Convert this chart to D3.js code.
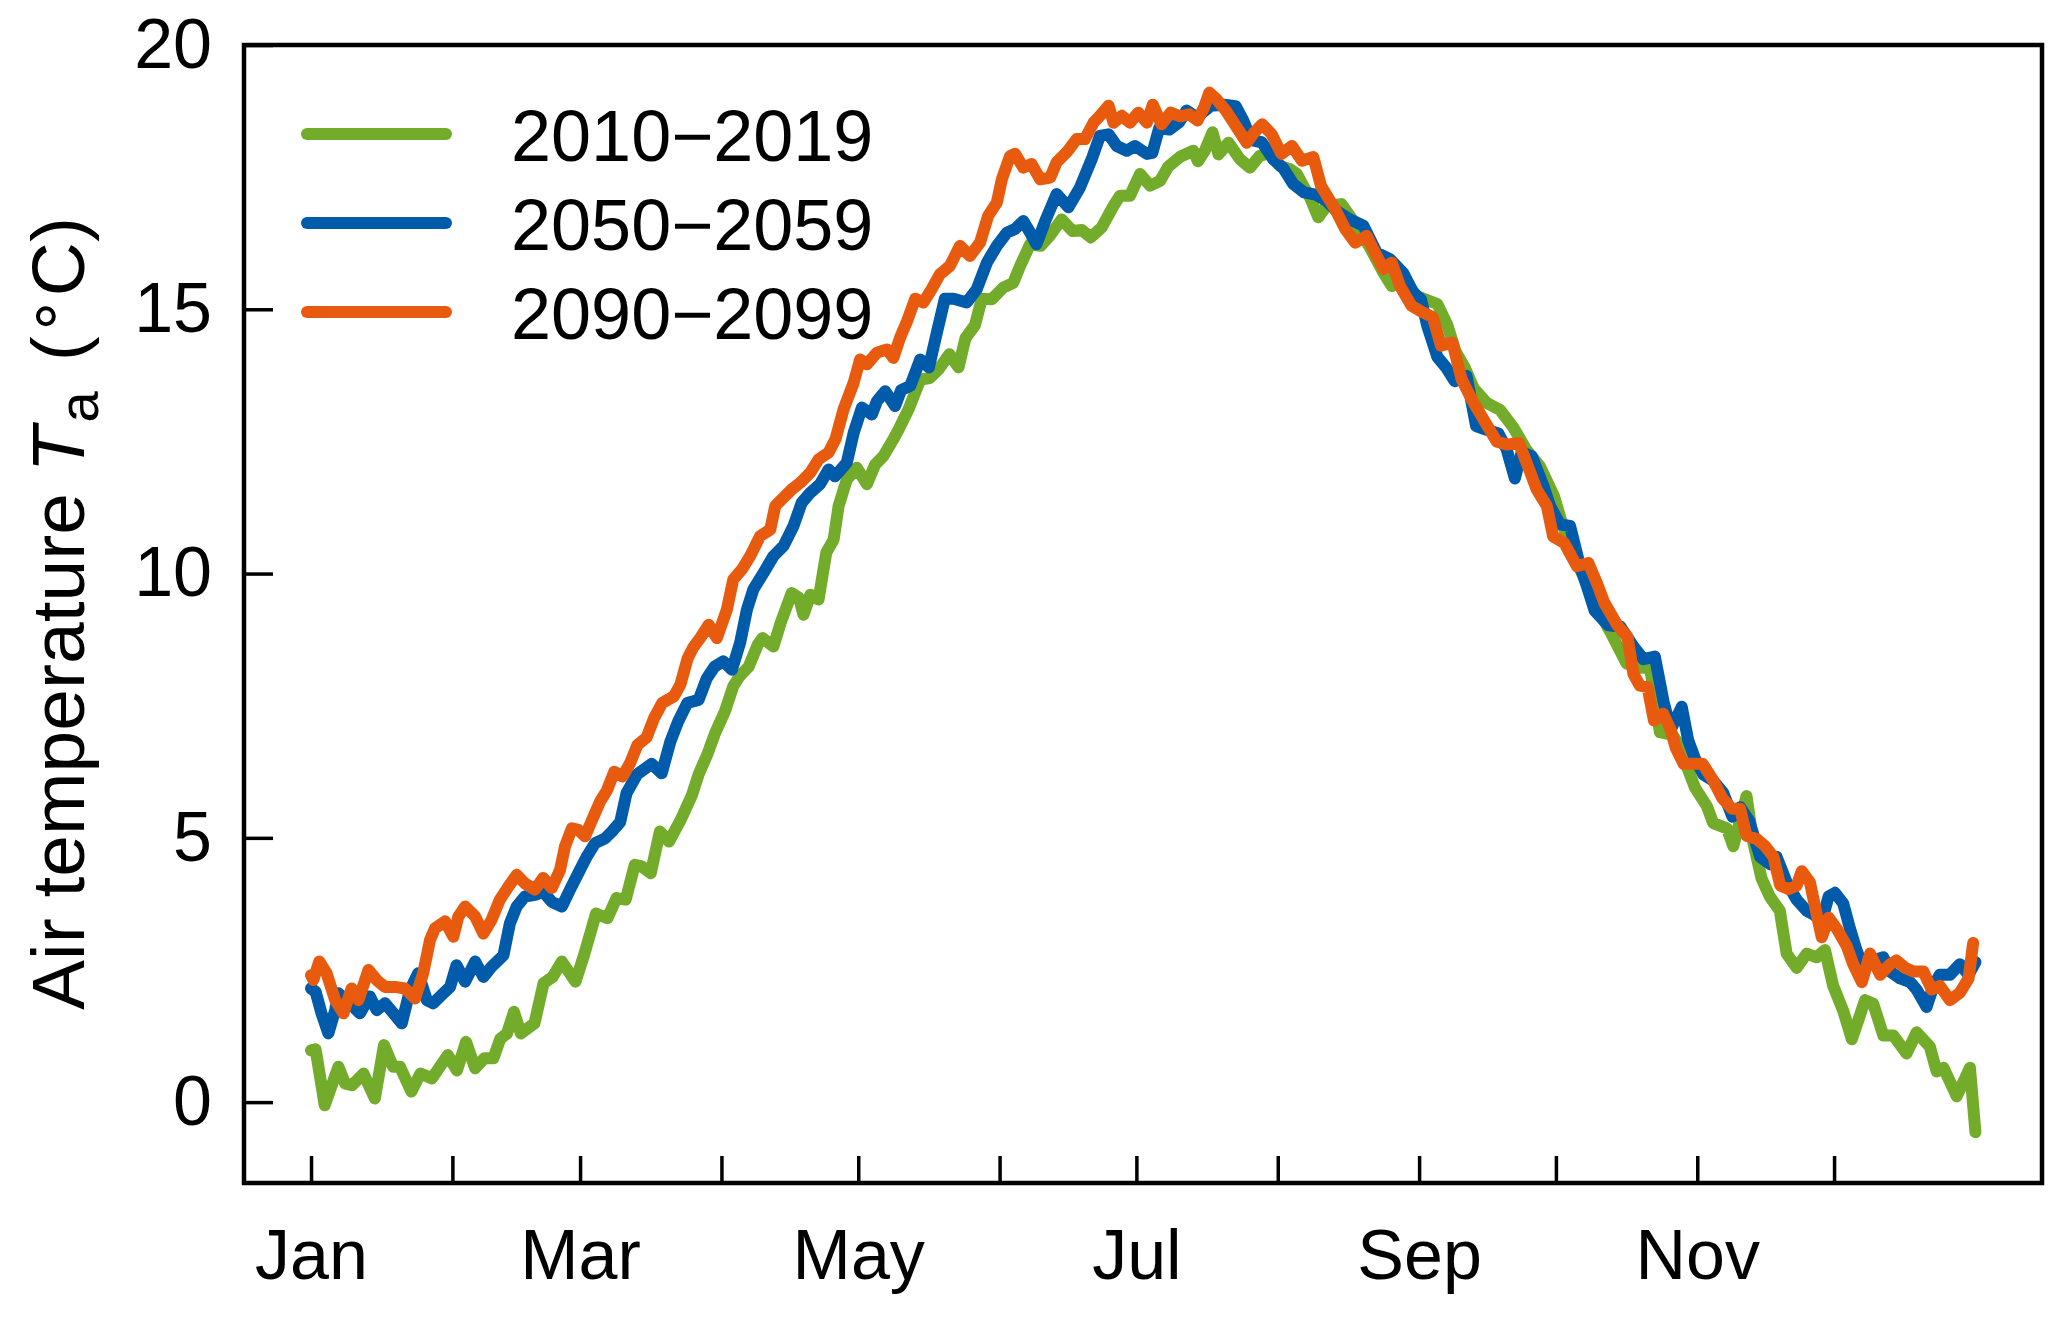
<!DOCTYPE html>
<html>
<head>
<meta charset="utf-8">
<script src="https://cdn.jsdelivr.net/npm/d3@7"></script>
<style>
  body { margin: 0; background: #fff; }
  text { font-family: Arial, "Liberation Sans", Helvetica, sans-serif; fill: #000; }
</style>
</head>
<body>
<div id="chart"></div>
<script>
// day of year -> mean air temperature (deg C)
const t2010 = [[1,0.98],[2,1.0],[4,-0.06],[7,0.67],[8.5,0.35],[10,0.32],[12.5,0.54],[15,0.07],[17,1.08],[19,0.67],[20.5,0.67],[23,0.2],[25,0.54],[27.5,0.45],[31,0.89],[33,0.6],[35,1.14],[37,0.64],[39,0.83],[41,0.83],[42.5,1.2],[44,1.3],[45.5,1.71],[47,1.3],[50,1.49],[52,2.25],[54,2.37],[56,2.66],[59,2.28],[61,2.82],[63.5,3.57],[66,3.48],[68,3.86],[70,3.83],[72,4.49],[73.5,4.46],[75.5,4.33],[77.5,5.12],[79.5,4.93],[82,5.33],[84.5,5.8],[86,6.2],[88,6.6],[89.6,6.98],[91.8,7.4],[93.6,7.87],[95,8.06],[97,8.24],[99,8.66],[100,8.78],[102.4,8.62],[104,9.07],[106.4,9.63],[108,9.54],[109,9.22],[110.5,9.6],[112.3,9.51],[114,10.4],[115.6,10.64],[116.7,11.28],[118.5,11.78],[120.7,12.0],[122.9,11.69],[124.7,12.06],[126.5,12.22],[128.7,12.54],[130,12.75],[132,13.1],[134.6,13.67],[136.7,13.7],[138.6,13.86],[141,14.15],[143,13.9],[144.5,14.45],[146.6,14.7],[148.1,15.2],[150.3,15.19],[152.8,15.41],[155,15.5],[156.5,15.82],[158.7,16.23],[161,16.2],[163,16.39],[165.6,16.7],[168,16.48],[170,16.5],[172,16.36],[174.4,16.55],[177,16.96],[178.4,17.15],[180.6,17.15],[182.8,17.56],[185,17.34],[187.2,17.43],[189,17.7],[191.5,17.88],[194.5,18.0],[195.5,17.8],[197,18.0],[198.7,18.35],[200,17.93],[202.2,18.15],[204.7,17.84],[206.9,17.68],[209,17.9],[211,17.95],[213.5,17.71],[215.7,17.65],[217.2,17.56],[219,17.27],[220.1,17.11],[221.9,16.74],[223.7,16.96],[227,16.99],[230.3,16.58],[233.2,16.17],[236.2,15.69],[238,15.44],[240.5,15.57],[243.5,15.25],[248,15.1],[250.2,14.7],[252,14.2],[254,13.9],[256,13.5],[258.8,13.23],[261.7,13.1],[264.7,12.76],[267.6,12.33],[270.5,12.03],[273.6,11.46],[275,11.05],[277.8,10.33],[280.8,9.82],[283.7,9.25],[286.4,8.82],[289.5,8.3],[292.4,8.22],[294.6,8.22],[295.6,7.74],[296.8,7.0],[299.5,6.95],[301.5,6.7],[302.5,6.4],[304.5,5.95],[307.1,5.6],[308.5,5.28],[311.5,5.18],[312.9,4.84],[315.8,5.79],[317.3,4.91],[319.1,4.23],[320.9,3.89],[323.1,3.62],[324.6,2.81],[326.8,2.54],[329,2.81],[331.2,2.74],[333,2.88],[334.8,2.2],[337,1.73],[338.9,1.19],[341.8,1.93],[343.6,1.86],[345.8,1.26],[348,1.26],[350.9,0.92],[353.1,1.32],[356,1.05],[357.5,0.58],[359,0.65],[361.9,0.11],[364.8,0.65],[366,-0.57]];

const t2050 = [[1,2.15],[2,2.09],[3.3,1.68],[4.8,1.3],[6.3,1.74],[7,2.06],[8.8,1.93],[11.7,1.68],[13.9,2.0],[15.4,1.74],[17.2,1.87],[19.1,1.68],[20.9,1.49],[22.7,2.12],[24.5,2.44],[26.4,1.93],[27.8,1.87],[29.7,2.03],[31.5,2.18],[32.9,2.59],[34.8,2.28],[37,2.66],[38.8,2.37],[40.6,2.56],[43.2,2.78],[44.6,3.38],[46.1,3.7],[47.9,3.89],[50.1,3.92],[51.9,3.98],[53.8,3.79],[56,3.7],[57.8,4.02],[59.6,4.33],[61.5,4.65],[63.3,4.9],[65.5,4.99],[67,5.12],[68.8,5.3],[70.2,5.85],[72.5,6.2],[75.7,6.4],[77.9,6.22],[79.8,6.82],[81.5,7.2],[83.5,7.55],[86,7.61],[87.8,8.02],[89.5,8.24],[91.4,8.34],[93.3,8.18],[95.1,8.69],[96.6,9.32],[98,9.7],[100.2,10.01],[102.4,10.33],[104.6,10.52],[106.8,10.9],[108.6,11.34],[110.5,11.53],[112.6,11.69],[114.5,11.97],[115.9,11.84],[118.5,12.1],[120,12.66],[121.8,13.14],[124,13.01],[125.1,13.26],[126.9,13.45],[129.1,13.17],[130.4,13.47],[132.4,13.55],[134.6,14.05],[136.5,13.9],[137.9,14.43],[140,15.2],[141.9,15.2],[144.8,15.13],[147,15.38],[149.2,15.88],[151.4,16.2],[153.6,16.45],[155.4,16.52],[157.2,16.67],[158.7,16.45],[160.1,16.23],[162,16.67],[164.5,17.18],[167.1,16.93],[169.6,17.3],[172.2,17.84],[174,18.28],[175.9,18.31],[177.7,18.09],[179.9,18.0],[181.7,18.09],[184.3,17.94],[185.5,17.96],[187,18.43],[189.2,18.4],[191.4,18.54],[193,18.76],[195.2,18.63],[198.3,18.85],[201.2,18.87],[203.8,18.84],[205.5,18.56],[207.2,18.2],[209.5,18.16],[212,17.84],[214.2,17.67],[216.4,17.37],[218.8,17.21],[221.3,17.17],[223.7,17.05],[225.9,16.86],[228.8,16.7],[231.8,16.58],[234.7,16.07],[237.6,15.95],[240.5,15.69],[242.7,15.32],[244.4,15.19],[245.8,14.68],[248,14.1],[249.9,13.9],[251.8,13.64],[254.4,13.74],[256.5,12.79],[258.8,12.72],[261.4,12.65],[263.2,12.35],[265,11.8],[266.5,12.3],[268.7,12.22],[271.3,11.65],[272.7,11.28],[274.9,10.93],[277.1,10.9],[279.3,10.14],[280.8,9.76],[282.5,9.3],[285.5,9.02],[288.1,9.0],[291,8.62],[293.2,8.38],[295.7,8.43],[297.6,7.58],[299.2,7.05],[301.6,7.48],[303,6.85],[304.5,6.5],[306.3,6.2],[308.5,6.08],[310.7,5.85],[312.7,5.4],[314.4,5.58],[316.4,5.32],[318.8,4.64],[321,4.5],[322.4,4.64],[324.6,4.16],[326.8,3.83],[329,3.62],[330.5,3.55],[332.3,3.42],[333.8,3.89],[335.2,3.96],[337,3.76],[338.5,3.28],[339.9,2.88],[341.4,2.54],[343.6,2.68],[345.8,2.74],[347.3,2.47],[349.5,2.34],[351.7,2.27],[353.1,2.13],[355.3,1.8],[356.8,2.2],[358.2,2.41],[360.4,2.41],[362.6,2.61],[364.5,2.41],[366,2.65]];

const t2090 = [[1,2.4],[1.5,2.31],[2.8,2.66],[4.4,2.44],[6.3,1.93],[8.1,1.68],[9.9,2.15],[11.4,1.93],[13.6,2.5],[15.4,2.31],[17.2,2.18],[19.4,2.18],[21.6,2.15],[23.8,1.96],[25.6,2.44],[27.1,3.07],[28.2,3.29],[30.4,3.42],[32.2,3.13],[33.3,3.51],[34.8,3.7],[37,3.51],[38.8,3.19],[40.6,3.45],[42.4,3.83],[44.3,4.08],[46.1,4.3],[47.9,4.14],[50.1,4.02],[51.9,4.24],[53.8,4.05],[55.6,4.39],[56.7,4.84],[58.2,5.18],[59.6,5.15],[61.1,5.03],[62.5,5.31],[64.4,5.69],[65.9,5.9],[67.5,6.25],[69.3,6.16],[71,6.42],[72.6,6.76],[74.6,6.9],[76.2,7.26],[78,7.55],[80.6,7.68],[82,7.9],[83.6,8.4],[84.8,8.6],[86.5,8.8],[88.2,9.03],[90,8.78],[92.2,9.32],[93.6,9.89],[95.5,10.08],[97.3,10.33],[99.5,10.71],[101.7,10.83],[102.8,11.28],[104.2,11.4],[106.4,11.59],[108.3,11.72],[110.5,11.91],[112.3,12.16],[114.5,12.29],[116,12.54],[117.8,13.11],[120,13.61],[121.4,14.05],[122.9,13.96],[125.1,14.18],[127.3,14.24],[128.7,14.08],[130.2,14.47],[131.6,14.75],[133.5,15.2],[135.3,15.13],[137.1,15.38],[138.9,15.66],[141.1,15.82],[143.3,16.2],[145.5,16.01],[147.7,16.26],[149.5,16.77],[151.4,17.02],[152.5,17.46],[154.3,17.9],[155.4,17.94],[157.2,17.68],[159,17.75],[160.9,17.46],[163.1,17.49],[164.5,17.78],[166.7,17.97],[168.9,18.22],[170.7,18.22],[172.6,18.53],[174,18.66],[175.9,18.85],[177,18.53],[178.8,18.66],[180.6,18.53],[182.4,18.72],[184.3,18.53],[185.6,18.87],[187.5,18.5],[189.5,18.72],[191.6,18.65],[193.6,18.69],[195.4,18.57],[196.9,18.83],[198,19.1],[199.5,18.98],[201.6,18.76],[203.8,18.47],[206.2,18.15],[208,18.36],[209.6,18.5],[211.6,18.32],[213.8,17.94],[216.1,18.09],[218.3,17.81],[220.8,17.88],[222.5,17.33],[225.6,16.89],[227.8,16.52],[230,16.26],[232.5,16.39],[234.7,16.01],[236.2,15.76],[238,15.88],[239.8,15.44],[242.3,15.07],[244.6,14.95],[247,14.85],[248.8,14.31],[251.3,14.37],[253.3,13.68],[255.5,13.3],[258.1,12.92],[261,12.5],[263.2,12.44],[265.9,12.47],[268,12.0],[269.8,11.59],[272,11.28],[273.4,10.7],[275.8,10.58],[278.6,10.14],[281.1,10.2],[283,9.82],[284.6,9.45],[287.5,9.02],[289.7,8.8],[291,8.1],[292.4,7.88],[294.1,7.85],[295.5,7.22],[297.5,7.35],[299.1,7.06],[300.3,6.7],[302,6.4],[304.1,6.4],[306.2,6.4],[308.4,6.1],[310.5,5.75],[312.6,5.55],[314.4,5.55],[315.8,5.04],[318,4.98],[319.9,4.84],[321.7,4.64],[323.2,4.1],[325,4.03],[326.8,4.1],[327.9,4.37],[329.7,4.16],[331.2,3.55],[332.3,3.12],[333.8,3.49],[335.6,3.28],[337.8,2.95],[339.2,2.61],[341.1,2.27],[342.9,2.81],[345.1,2.41],[347.3,2.61],[348.7,2.68],[350.6,2.54],[352.4,2.47],[354.6,2.47],[356.4,2.13],[358.2,2.2],[360.4,1.93],[362.6,2.07],[364.5,2.34],[365.5,3.01]];

const seriesNames = ["2010\u22122019", "2050\u22122059", "2090\u22122099"];
const seriesColors = ["#72AC2A", "#005BAA", "#E85B0F"];
const monthNames = ["Jan","Feb","Mar","Apr","May","Jun","Jul","Aug","Sep","Oct","Nov","Dec"];
const monthStartDays = [1, 32, 60, 91, 121, 152, 182, 213, 244, 274, 305, 335];
const yTicks = [0, 5, 10, 15, 20];

const W = 2067, H = 1317;
const MARGIN = { TOP: 45, BOTTOM: 134, LEFT: 244, RIGHT: 25 };

const svg = d3.select("#chart").append("svg")
  .attr("width", W)
  .attr("height", H);

svg.append("rect").attr("width", W).attr("height", H).attr("fill", "#fff");

const x = d3.scaleLinear()
  .domain([-13.7, 380.6])
  .range([MARGIN.LEFT, W - MARGIN.RIGHT]);

const y = d3.scaleLinear()
  .domain([-1.53, 20])
  .range([H - MARGIN.BOTTOM, MARGIN.TOP]);

const plotB = H - MARGIN.BOTTOM;

// x axis: month ticks pointing inward, odd months labelled
const xAxis = d3.axisBottom(x)
  .tickValues(monthStartDays)
  .tickSizeInner(-27)
  .tickSizeOuter(0)
  .tickPadding(46)
  .tickFormat((d, i) => i % 2 === 0 ? monthNames[i] : "");

const gx = svg.append("g")
  .attr("transform", `translate(0, ${plotB})`)
  .call(xAxis);
gx.select(".domain").remove();
gx.selectAll(".tick line").attr("stroke", "#000").attr("stroke-width", 3.5);
gx.selectAll(".tick text")
  .attr("font-size", 70)
  .attr("font-family", "Arial, 'Liberation Sans', sans-serif")
  .attr("fill", "#000");

// y axis
const yAxis = d3.axisLeft(y)
  .tickValues(yTicks)
  .tickSizeInner(-29)
  .tickSizeOuter(0)
  .tickPadding(32)
  .tickFormat(d3.format("d"));

const gy = svg.append("g")
  .attr("transform", `translate(${MARGIN.LEFT}, 0)`)
  .call(yAxis);
gy.select(".domain").remove();
gy.selectAll(".tick line").attr("stroke", "#000").attr("stroke-width", 3.5);
gy.selectAll(".tick text")
  .attr("font-size", 70)
  .attr("font-family", "Arial, 'Liberation Sans', sans-serif")
  .attr("fill", "#000");

// frame
svg.append("rect")
  .attr("x", MARGIN.LEFT)
  .attr("y", MARGIN.TOP)
  .attr("width", W - MARGIN.RIGHT - MARGIN.LEFT)
  .attr("height", plotB - MARGIN.TOP)
  .attr("fill", "none")
  .attr("stroke", "#000")
  .attr("stroke-width", 4.5);

// lines
const line = d3.line()
  .x(d => x(d[0]))
  .y(d => y(d[1]));

const allSeries = [t2010, t2050, t2090];

svg.append("g").selectAll("path")
  .data(allSeries)
  .enter().append("path")
  .attr("d", line)
  .attr("fill", "none")
  .attr("stroke", (d, i) => seriesColors[i])
  .attr("stroke-width", 12)
  .attr("stroke-linejoin", "round")
  .attr("stroke-linecap", "round");

// legend
const legend = svg.append("g");
const legendY = [134, 223, 312];
seriesNames.forEach((name, i) => {
  legend.append("line")
    .attr("x1", 307).attr("x2", 446)
    .attr("y1", legendY[i]).attr("y2", legendY[i])
    .attr("stroke", seriesColors[i])
    .attr("stroke-width", 12)
    .attr("stroke-linecap", "round");
  legend.append("text")
    .attr("x", 511)
    .attr("y", legendY[i] + 27)
    .attr("font-size", 72)
    .text(name);
});

// y label
const ylab = svg.append("text")
  .attr("transform", "translate(84, 1010) rotate(-90)")
  .attr("font-size", 75)
  .attr("text-anchor", "start");
ylab.append("tspan").text("Air temperature ");
ylab.append("tspan").attr("font-style", "italic").text("T");
ylab.append("tspan").attr("font-size", 56).attr("dy", 14).attr("dx", 4).text("a");
ylab.append("tspan").attr("dy", -14).attr("dx", 30).text("(");
ylab.append("tspan").attr("font-family", "'DejaVu Sans', sans-serif").attr("font-size", 64).attr("dy", -18).text("\u2218");
ylab.append("tspan").attr("dy", 18).text("C)");
</script>
</body>
</html>
